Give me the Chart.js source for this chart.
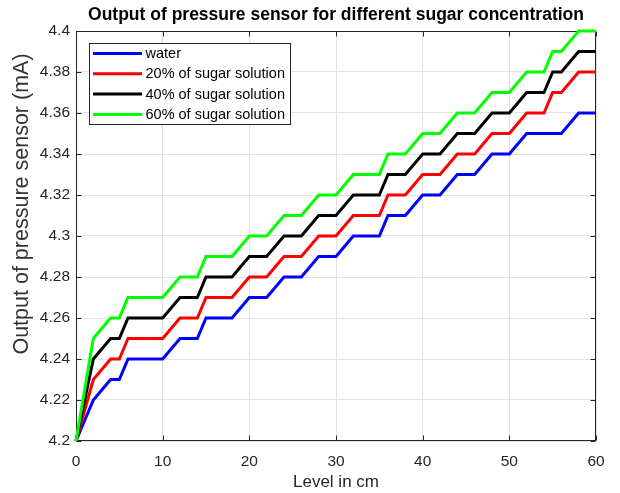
<!DOCTYPE html>
<html>
<head>
<meta charset="utf-8">
<title>Pressure sensor output</title>
<script src="https://cdn.jsdelivr.net/npm/chart.js@4/dist/chart.umd.min.js"></script>
<style>
    html, body { margin: 0; padding: 0; background: #fff; }
    canvas { display: block; }
</style>
</head>
<body>
<canvas id="graph" width="620" height="493"></canvas>
<script>
// level in cm at each reading
var levels = [0, 2, 4, 5, 6, 10, 12, 14, 15, 18, 20, 22, 24, 26, 28, 30, 32, 35, 36, 38, 40, 42, 44, 46, 48, 50, 52, 54, 55, 56, 58, 60]

// sensor output (mA) for each liquid
var water   = [4.20, 4.22, 4.23, 4.23, 4.24, 4.24, 4.25, 4.25, 4.26, 4.26, 4.27, 4.27, 4.28, 4.28, 4.29, 4.29, 4.30, 4.30, 4.31, 4.31, 4.32, 4.32, 4.33, 4.33, 4.34, 4.34, 4.35, 4.35, 4.35, 4.35, 4.36, 4.36]
var sugar20 = [4.20, 4.23, 4.24, 4.24, 4.25, 4.25, 4.26, 4.26, 4.27, 4.27, 4.28, 4.28, 4.29, 4.29, 4.30, 4.30, 4.31, 4.31, 4.32, 4.32, 4.33, 4.33, 4.34, 4.34, 4.35, 4.35, 4.36, 4.36, 4.37, 4.37, 4.38, 4.38]
var sugar40 = [4.20, 4.24, 4.25, 4.25, 4.26, 4.26, 4.27, 4.27, 4.28, 4.28, 4.29, 4.29, 4.30, 4.30, 4.31, 4.31, 4.32, 4.32, 4.33, 4.33, 4.34, 4.34, 4.35, 4.35, 4.36, 4.36, 4.37, 4.37, 4.38, 4.38, 4.39, 4.39]
var sugar60 = [4.20, 4.25, 4.26, 4.26, 4.27, 4.27, 4.28, 4.28, 4.29, 4.29, 4.30, 4.30, 4.31, 4.31, 4.32, 4.32, 4.33, 4.33, 4.34, 4.34, 4.35, 4.35, 4.36, 4.36, 4.37, 4.37, 4.38, 4.38, 4.39, 4.39, 4.40, 4.40]

var names = ["water", "20% of sugar solution", "40% of sugar solution", "60% of sugar solution"]
var colors = ["#0000ff", "#ff0000", "#000000", "#00ff00"]

var font = "'Liberation Sans', Arial, Helvetica, sans-serif"
var axisColor = "#262626"

function points(values) {
    return levels.map((x, i) => ({ x: x, y: values[i] }))
}

var datasets = [water, sugar20, sugar40, sugar60].map((values, i) => ({
    label: names[i],
    data: points(values),
    borderColor: colors[i],
    borderWidth: 3,
    pointRadius: 0,
    tension: 0,
    fill: false,
    clip: false,
    order: 4 - i // last series ends up on top
}))

// frame round the axes with short inward ticks on all four sides
var axesBox = {
    id: "axesBox",
    beforeDatasetsDraw(chart) {
        var ctx = chart.ctx
        var a = chart.chartArea
        var l = Math.round(a.left) + 0.5
        var r = Math.round(a.right) - 0.5
        var t = Math.round(a.top) + 0.5
        var b = Math.round(a.bottom) - 0.5
        var len = 5

        ctx.save()
        ctx.strokeStyle = axisColor
        ctx.lineWidth = 1
        ctx.strokeRect(l, t, r - l, b - t)

        ctx.beginPath()
        chart.scales.x.ticks.forEach(tick => {
            var px = Math.round(chart.scales.x.getPixelForValue(tick.value)) + 0.5
            ctx.moveTo(px, b); ctx.lineTo(px, b - len)
            ctx.moveTo(px, t); ctx.lineTo(px, t + len)
        })
        chart.scales.y.ticks.forEach(tick => {
            var py = Math.round(chart.scales.y.getPixelForValue(tick.value)) + 0.5
            ctx.moveTo(l, py); ctx.lineTo(l + len, py)
            ctx.moveTo(r, py); ctx.lineTo(r - len, py)
        })
        ctx.stroke()
        ctx.restore()
    }
}

// legend box in the upper left corner, built from the datasets
var boxLegend = {
    id: "boxLegend",
    afterDraw(chart) {
        var ctx = chart.ctx
        var a = chart.chartArea
        var x = Math.round(a.left) + 13.5
        var y = Math.round(a.top) + 12.5
        var w = 201
        var h = 81
        var rowGap = 20.3

        ctx.save()
        ctx.fillStyle = "#ffffff"
        ctx.fillRect(x, y, w, h)
        ctx.strokeStyle = axisColor
        ctx.lineWidth = 1
        ctx.strokeRect(x, y, w, h)

        ctx.font = "14.5px " + font
        ctx.textBaseline = "middle"
        ctx.textAlign = "left"
        chart.data.datasets.forEach((ds, i) => {
            var rowY = y + 10 + i * rowGap
            ctx.strokeStyle = ds.borderColor
            ctx.lineWidth = 3
            ctx.beginPath()
            ctx.moveTo(x + 3.5, rowY)
            ctx.lineTo(x + 52.5, rowY)
            ctx.stroke()
            ctx.fillStyle = "#000000"
            ctx.fillText(ds.label, x + 56, rowY + 0.5)
        })
        ctx.restore()
    }
}

// vertical axis title
var yTitle = {
    id: "yTitle",
    afterDraw(chart) {
        var ctx = chart.ctx
        ctx.save()
        ctx.translate(22, 204)
        ctx.rotate(-Math.PI / 2)
        ctx.font = "21.5px " + font
        ctx.fillStyle = "#333333"
        ctx.textAlign = "center"
        ctx.textBaseline = "middle"
        ctx.fillText("Output of pressure sensor (mA)", 0, 0)
        ctx.restore()
    }
}

var config = {
    type: "line",
    data: { datasets: datasets },
    options: {
        responsive: false,
        devicePixelRatio: 1,
        animation: false,
        layout: { padding: { top: 0, right: 24, bottom: 0, left: 0 } },
        plugins: {
            legend: { display: false },
            tooltip: { enabled: false },
            title: {
                display: true,
                fullSize: false, // centre over the plot, not the canvas
                text: "Output of pressure sensor for different sugar concentration",
                color: "#000000",
                font: { family: font, size: 17.5, weight: "bold" },
                padding: { top: 5, bottom: 5 }
            }
        },
        scales: {
            x: {
                type: "linear",
                min: 0,
                max: 60,
                afterFit: s => { s.height = 52 },
                ticks: {
                    stepSize: 10,
                    color: axisColor,
                    font: { family: font, size: 15.5 },
                    padding: 11,
                    maxRotation: 0
                },
                grid: { color: "#e3e3e3", drawTicks: false },
                border: { display: false },
                title: {
                    display: true,
                    text: "Level in cm",
                    color: axisColor,
                    font: { family: font, size: 17 },
                    padding: { top: 0, bottom: 0 }
                }
            },
            y: {
                min: 4.2,
                max: 4.4,
                afterFit: s => { s.width = 76 },
                ticks: {
                    stepSize: 0.02,
                    color: axisColor,
                    font: { family: font, size: 15.5 },
                    padding: 6,
                    callback: v => parseFloat(v.toFixed(2)).toString()
                },
                grid: { color: "#e3e3e3", drawTicks: false },
                border: { display: false }
            }
        }
    },
    plugins: [axesBox, boxLegend, yTitle]
}

var graph = new Chart(document.getElementById("graph"), config)
</script>
</body>
</html>
